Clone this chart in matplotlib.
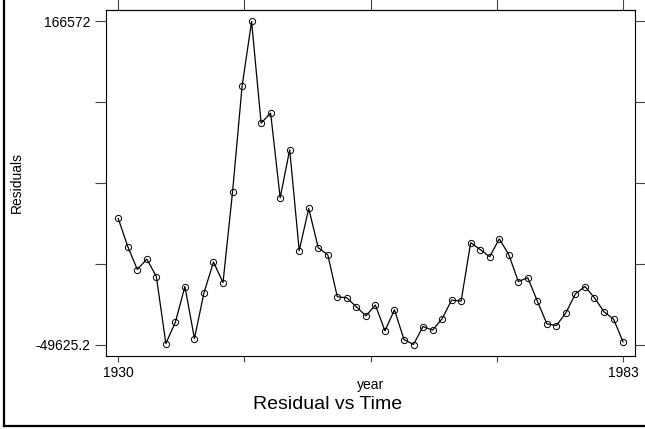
import numpy as np
import matplotlib
matplotlib.use("Agg")
import matplotlib.pyplot as plt
from matplotlib.lines import Line2D

plt.rcParams["font.family"] = ["Liberation Sans", "DejaVu Sans"]

# residuals por año
years = list(range(1930, 1984))
residuals = [
    34712, 15970, 576, 7537, -4110, -48955, -34632, -10803, -45609, -15020,
    5529, -8126, 52382, 123065, 166572, 98567, 105260, 48567, 80696, 13293,
    41405, 15100, 10415, -17698, -18367, -24391, -30415, -23253, -40455, -26399,
    -46278, -49625.2, -37577, -39986, -32423, -19906, -20576, 18447, 13962, 9076,
    21124, 10616, -7456, -4980, -20576, -35770, -36907, -28407, -15689, -10803,
    -18367, -27737, -32624, -47818,
]
y_tick_labels = ["-49625.2", "", "", "", "166572"]
x_tick_labels = ["1930", "", "", "", "1983"]

fig = plt.figure(figsize=(6.45, 4.29), dpi=100)
ax = fig.add_axes([0.1643, 0.1702, 0.9850 - 0.1643, 0.9767 - 0.1702])

ax.plot(years, residuals, color="black", linewidth=0.9,
        marker="o", markersize=4.5, markerfacecolor="none",
        markeredgecolor="black", markeredgewidth=0.7)

ymin, ymax = min(residuals), max(residuals)
ypad = 0.0355 * (ymax - ymin)
ax.set_ylim(ymin - ypad, ymax + ypad)
xmin, xmax = years[0], years[-1]
xpad = 0.0243 * (xmax - xmin)
ax.set_xlim(xmin - xpad, xmax + xpad)

ax.set_yticks(np.linspace(ymin, ymax, 5))
ax.set_yticklabels(y_tick_labels)
ax.set_xticks(np.linspace(xmin, xmax, 5))
ax.set_xticklabels(x_tick_labels)

for s in ax.spines.values():
    s.set_linewidth(0.8)

ax.tick_params(axis="y", left=True, right=True, length=8, width=0.8,
               color="#444444", labelsize=10, pad=3)
ax.tick_params(axis="x", bottom=True, length=4.3, width=0.8,
               color="#444444", labelsize=10, pad=3.2)

top = ax.secondary_xaxis("top")
top.set_xticks(np.linspace(xmin, xmax, 5))
top.set_xticklabels([])
top.tick_params(length=8, width=0.8, color="#444444")
top.spines["top"].set_linewidth(0.8)

ax.set_ylabel("Residuals", fontsize=10)
ax.yaxis.set_label_coords(-0.156, 0.5)
ax.text(0.5, -0.085, "year", transform=ax.transAxes, ha="center", va="center",
        fontsize=10)
fig.text(0.508, 0.0575, "Residual vs Time", ha="center", va="center", fontsize=14)

# borde exterior (izquierda y abajo)
fig.add_artist(Line2D([0.0067, 0.0067], [0.007, 1.0], transform=fig.transFigure,
                      color="black", linewidth=1.6))
fig.add_artist(Line2D([0.0067, 1.0], [0.007, 0.007], transform=fig.transFigure,
                      color="black", linewidth=1.6))

fig.savefig("out.png", dpi=100)
